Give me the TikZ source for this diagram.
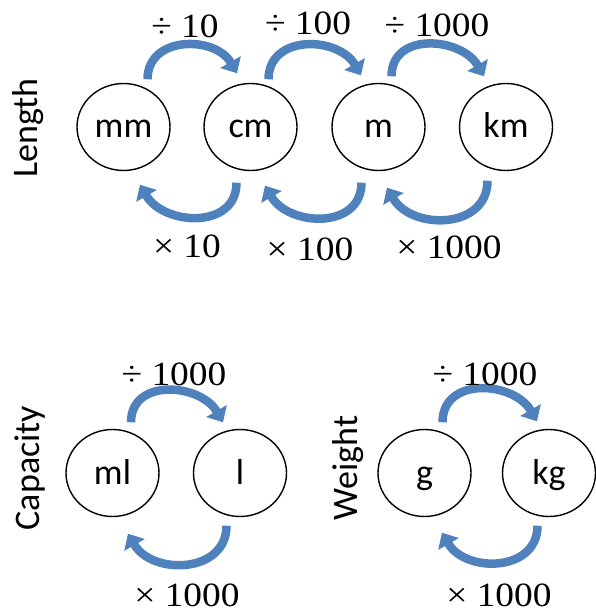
\documentclass[tikz,border=0pt]{standalone}
\usepackage{fontspec}
\newfontfamily\labelsans{Carlito}
\newfontfamily\opserif[FakeStretch=1.1]{Liberation Serif}
\usetikzlibrary{arrows.meta,shapes.geometric,calc}
\definecolor{arrowblue}{RGB}{79,129,189}
\tikzset{
 unit/.style={ellipse, draw=black, line width=1.4pt, minimum width=93pt, minimum height=87pt, inner sep=0pt},
 ulabel/.style={anchor=base, font=\labelsans\fontsize{36}{40}\selectfont, inner sep=0pt},
 oplabel/.style={anchor=base, font=\opserif\fontsize{34}{40}\selectfont, inner sep=0pt},
 qlabel/.style={rotate=90, font=\labelsans\fontsize{36}{40}\selectfont, inner sep=0pt},
 conv/.style={draw=arrowblue, line width=8.5pt, -{Triangle[width=23pt,length=13pt]}, looseness=1.25},
}
\begin{document}
\begin{tikzpicture}[x=1pt,y=-1pt]
\useasboundingbox (0,0) rectangle (595,612);
% units
\node[unit] (mm) at (123.5,127) {};
\node[unit] (cm) at (250.5,127) {};
\node[unit] (m) at (378.5,127) {};
\node[unit] (km) at (506,127) {};
\node[unit] (ml) at (112.5,473) {};
\node[unit] (l) at (240,473) {};
\node[unit] (g) at (424.5,473) {};
\node[unit] (kg) at (549,473) {};
\node[ulabel] (tmm) at ($(mm.center)+(0,11)$) {mm};
\node[ulabel] (tcm) at ($(cm.center)+(0,11)$) {cm};
\node[ulabel] (tm) at ($(m.center)+(0,11)$) {m};
\node[ulabel] (tkm) at ($(km.center)+(0,11)$) {km};
\node[ulabel] (tml) at ($(ml.center)+(0,11)$) {ml};
\node[ulabel] (tl) at ($(l.center)+(0,11)$) {l};
\node[ulabel] (tg) at ($(g.center)+(0,11)$) {g};
\node[ulabel] (tkg) at ($(kg.center)+(0,11)$) {kg};
% quantity labels
\node[qlabel] (qlen) at (28,128) {Length};
\node[qlabel] (qcap) at (30,468) {Capacity};
\node[qlabel] (qwei) at (348,468) {Weight};
% top arrows (divide)
\draw[conv] ($(mm.north)+(24,-3.5)$) to[out=90,in=120] ($(cm.north)+(-13.5,-9.5)$);
\draw[conv] ($(cm.north)+(18,-3.5)$) to[out=90,in=120] ($(m.north)+(-17.5,-7.5)$);
\draw[conv] ($(m.north)+(13,-6.5)$) to[out=90,in=120] ($(km.north)+(-22,-6.5)$);
\draw[conv] ($(ml.north)+(18.5,-6.5)$) to[out=90,in=120] ($(l.north)+(-17,-6.5)$);
\draw[conv] ($(g.north)+(18,-6.5)$) to[out=90,in=120] ($(kg.north)+(-12,-7.5)$);
% bottom arrows (multiply)
\draw[conv] ($(cm.south)+(-14,11.5)$) to[out=-90,in=-60] ($(mm.south)+(16.5,13.5)$);
\draw[conv] ($(m.south)+(-17,11.5)$) to[out=-90,in=-60] ($(cm.south)+(14.5,14.5)$);
\draw[conv] ($(km.south)+(-18.5,9.5)$) to[out=-90,in=-60] ($(m.south)+(8.5,16.5)$);
\draw[conv] ($(l.south)+(-13.5,8.5)$) to[out=-90,in=-60] ($(ml.south)+(15.5,16.5)$);
\draw[conv] ($(kg.south)+(-11.5,8.5)$) to[out=-90,in=-60] ($(g.south)+(17.5,15.5)$);
% operation labels
\node[oplabel] (d10) at (185,38) {÷ 10};
\node[oplabel] (d100) at (308,35) {÷ 100};
\node[oplabel] (d1000) at (437,37) {÷ 1000};
\node[oplabel] (x10) at (187,257) {× 10};
\node[oplabel] (x100) at (310,260) {× 100};
\node[oplabel] (x1000) at (449,258) {× 1000};
\node[oplabel] (cd) at (174,385) {÷ 1000};
\node[oplabel] (cx) at (187,606) {× 1000};
\node[oplabel] (wd) at (485,385) {÷ 1000};
\node[oplabel] (wx) at (499,606) {× 1000};
\end{tikzpicture}
\end{document}
